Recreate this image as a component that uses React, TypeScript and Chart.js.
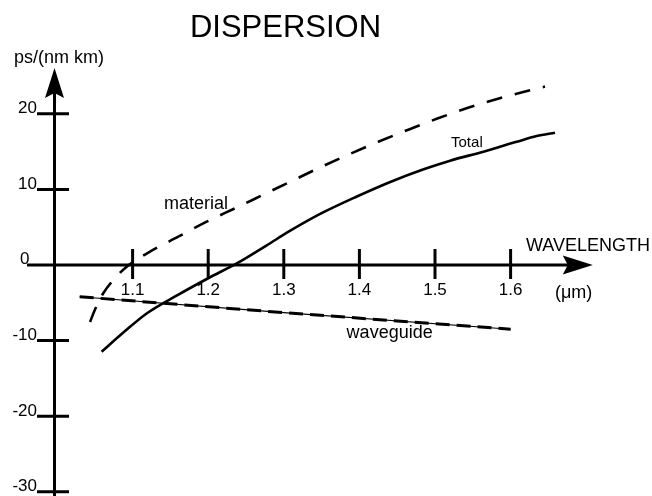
import React, { useEffect, useRef } from "react";
import { Chart, registerables } from "chart.js";

Chart.register(...registerables);

// ---------- text ----------
const TITLE = "DISPERSION";
const Y_UNIT = "ps/(nm km)";
const X_NAME = "WAVELENGTH";
const X_UNIT = "(\u03bcm)";

// ---------- ticks ----------
const X_TICKS = [1.1, 1.2, 1.3, 1.4, 1.5, 1.6];
const X_TICK_LABELS = ["1.1", "1.2", "1.3", "1.4", "1.5", "1.6"];
const Y_TICKS = [20, 10, 0, -10, -20, -30];
const Y_TICK_LABELS = ["20", "10", "0", "-10", "-20", "-30"];

// ---------- series (wavelength in µm, dispersion in ps/(nm km)) ----------
const MATERIAL_X = [1.0437, 1.05, 1.0612, 1.0745, 1.0922, 1.123, 1.1604, 1.198, 1.2354, 1.2729, 1.3104, 1.3479, 1.3876, 1.425, 1.4647, 1.504, 1.5437, 1.5833, 1.6257, 1.6455];
const MATERIAL_Y = [-7.54, -5.95, -3.74, -1.98, -0.22, 1.76, 3.74, 5.73, 7.5, 9.3, 11.1, 12.9, 14.7, 16.3, 17.9, 19.4, 20.8, 22.0, 23.1, 23.6];

const TOTAL_X = [1.059, 1.087, 1.119, 1.16, 1.2, 1.2377, 1.2774, 1.308, 1.35, 1.396, 1.44, 1.485, 1.52, 1.564, 1.608, 1.6345, 1.6587];
const TOTAL_Y = [-11.47, -9.0, -6.38, -3.95, -1.75, 0.2, 2.6, 4.5, 6.85, 9.03, 10.95, 12.66, 13.8, 14.99, 16.3, 17.05, 17.5];

const WAVEGUIDE_X = [1.03, 1.3, 1.6];
const WAVEGUIDE_Y = [-4.2, -6.3, -8.5];

// ---------- scale ranges ----------
const X_MIN = 0.9246;
const X_MAX = 1.78704;
const Y_MIN = -30.556;
const Y_MAX = 35.053;

// where the drawn axes sit / end (data units)
const Y_AXIS_AT = 0.9967;
const X_AXIS_FROM = 0.9603;
const X_ARROW_TIP = 1.7087;
const Y_ARROW_TIP = 26.06;

const FONT = "'Liberation Sans', Arial, Helvetica, sans-serif";

const pts = (xs: number[], ys: number[]) => xs.map((x, i) => ({ x, y: ys[i] }));

const axesPlugin = {
  id: "physAxes",
  afterDatasetsDraw(chart: any) {
    const { ctx } = chart;
    const xs = chart.scales.x;
    const ys = chart.scales.y;
    const px = (v: number) => xs.getPixelForValue(v);
    const py = (v: number) => ys.getPixelForValue(v);
    const ax = px(Y_AXIS_AT);
    const ay = py(0);

    ctx.save();
    ctx.strokeStyle = "#000";
    ctx.fillStyle = "#000";
    ctx.lineWidth = 3;
    ctx.lineCap = "butt";

    // y axis line + arrow
    const tipY = py(Y_ARROW_TIP);
    ctx.beginPath();
    ctx.moveTo(ax, chart.height);
    ctx.lineTo(ax, tipY + 24);
    ctx.stroke();
    ctx.beginPath();
    ctx.moveTo(ax, tipY);
    ctx.lineTo(ax - 9.5, tipY + 30);
    ctx.lineTo(ax, tipY + 25);
    ctx.lineTo(ax + 9.5, tipY + 30);
    ctx.closePath();
    ctx.fill();

    // x axis line + arrow
    const tipX = px(X_ARROW_TIP);
    ctx.beginPath();
    ctx.moveTo(px(X_AXIS_FROM), ay);
    ctx.lineTo(tipX - 24, ay);
    ctx.stroke();
    ctx.beginPath();
    ctx.moveTo(tipX, ay);
    ctx.lineTo(tipX - 30, ay - 9.5);
    ctx.lineTo(tipX - 25, ay);
    ctx.lineTo(tipX - 30, ay + 9.5);
    ctx.closePath();
    ctx.fill();

    // y ticks
    Y_TICKS.forEach((v) => {
      if (v === 0) return;
      const y = py(v);
      ctx.beginPath();
      ctx.moveTo(ax - 17.5, y);
      ctx.lineTo(ax + 14.5, y);
      ctx.stroke();
    });
    // x ticks
    X_TICKS.forEach((v) => {
      const x = px(v);
      ctx.beginPath();
      ctx.moveTo(x, ay - 16);
      ctx.lineTo(x, ay + 14);
      ctx.stroke();
    });

    // tick labels
    ctx.font = `17px ${FONT}`;
    ctx.textBaseline = "alphabetic";
    ctx.textAlign = "right";
    Y_TICKS.forEach((v, i) => {
      const y = py(v);
      const right = v === 0 ? ax - 25 : ax - 17.5;
      ctx.fillText(Y_TICK_LABELS[i], right, y - 0.5);
    });
    ctx.textAlign = "center";
    X_TICKS.forEach((v, i) => {
      ctx.fillText(X_TICK_LABELS[i], px(v), ay + 30);
    });

    // title
    ctx.font = `31px ${FONT}`;
    ctx.textAlign = "center";
    ctx.fillText(TITLE, 285.5, 37);

    // axis names
    ctx.font = `18px ${FONT}`;
    ctx.textAlign = "left";
    ctx.fillText(Y_UNIT, 14, 63);
    ctx.fillText(X_NAME, 526, 251);
    ctx.fillText(X_UNIT, 555, 298);

    // curve labels
    ctx.font = `18px ${FONT}`;
    ctx.fillText("material", px(1.1415), py(7.41));
    ctx.fillText("waveguide", px(1.3831), py(-9.66));
    ctx.font = `15px ${FONT}`;
    ctx.fillText("Total", px(1.5212), py(15.61));

    ctx.restore();
  },
};

export default function App() {
  const ref = useRef<HTMLCanvasElement | null>(null);

  useEffect(() => {
    document.body.style.margin = "0";
    const canvas = ref.current;
    if (!canvas) return;
    const chart = new Chart(canvas, {
      type: "line",
      data: {
        datasets: [
          {
            label: "material",
            data: pts(MATERIAL_X, MATERIAL_Y),
            borderColor: "#000",
            borderWidth: 2.6,
            borderDash: [16, 13],
            cubicInterpolationMode: "monotone",
            pointRadius: 0,
            fill: false,
          },
          {
            label: "Total",
            data: pts(TOTAL_X, TOTAL_Y),
            borderColor: "#000",
            borderWidth: 2.6,
            cubicInterpolationMode: "monotone",
            pointRadius: 0,
            fill: false,
          },
          {
            label: "waveguide",
            data: pts(WAVEGUIDE_X, WAVEGUIDE_Y),
            borderColor: "#000",
            borderWidth: 1.2,
            pointRadius: 0,
            fill: false,
          },
          {
            label: "waveguide dashes",
            data: pts(WAVEGUIDE_X, WAVEGUIDE_Y),
            borderColor: "#000",
            borderWidth: 3,
            borderDash: [14, 7],
            pointRadius: 0,
            fill: false,
          },
        ],
      },
      options: {
        animation: false,
        responsive: false,
        maintainAspectRatio: false,
        layout: { padding: 0 },
        plugins: {
          legend: { display: false },
          tooltip: { enabled: false },
          title: { display: false },
        },
        events: [],
        scales: {
          x: { type: "linear", min: X_MIN, max: X_MAX, display: false },
          y: { type: "linear", min: Y_MIN, max: Y_MAX, display: false },
        },
      },
      plugins: [axesPlugin],
    } as any);
    return () => chart.destroy();
  }, []);

  return (
    <div style={{ width: 652, height: 496, background: "#fff" }}>
      <canvas ref={ref} width={652} height={496} style={{ display: "block", width: 652, height: 496 }} />
    </div>
  );
}
